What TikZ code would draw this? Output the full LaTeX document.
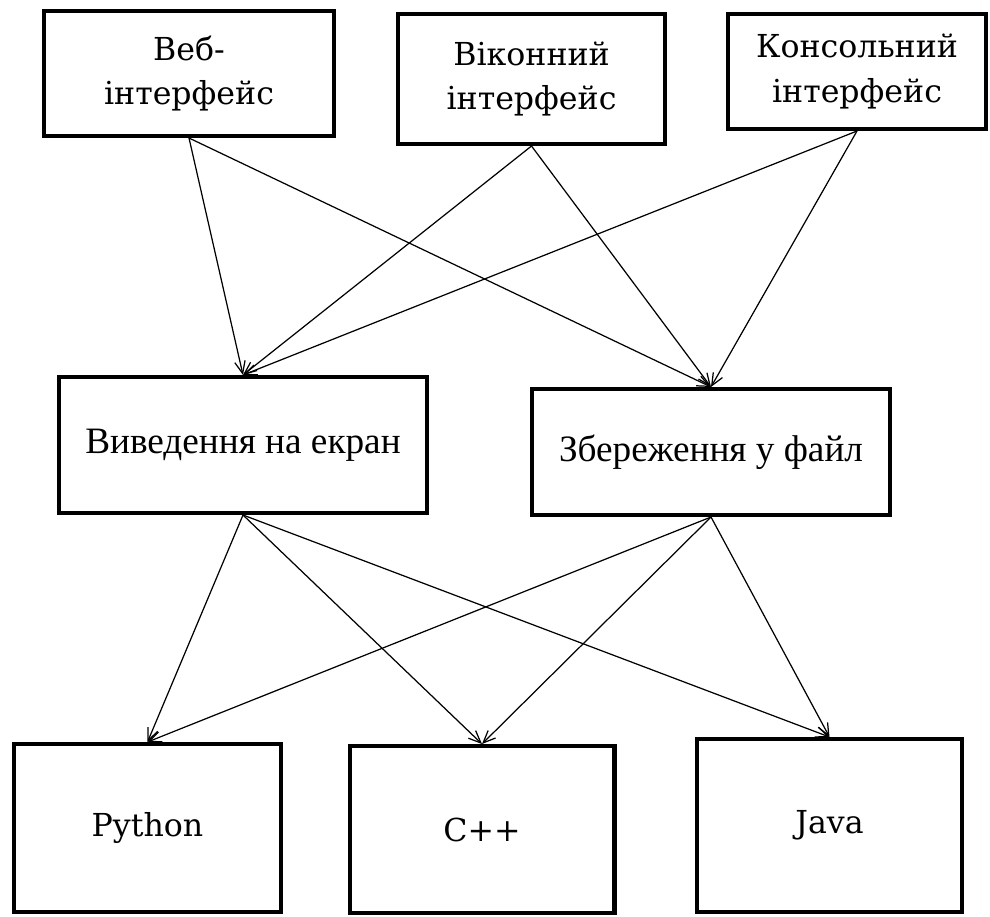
\documentclass[tikz,border=0pt]{standalone}
\usepackage{fontspec}
\setmainfont{Liberation Serif}
\newfontfamily\slabfont{DejaVu Serif}
\usetikzlibrary{arrows.meta}
\begin{document}
\begin{tikzpicture}[x=0.02cm,y=-0.02cm,
  box/.style={draw,line width=2.3pt,align=center,inner sep=0pt},
  toptext/.style={font=\slabfont\fontsize{18}{25.5}\selectfont},
  midtext/.style={font=\fontsize{21.2}{25}\selectfont},
  langtext/.style={font=\slabfont\fontsize{18}{22}\selectfont},
  arr/.style={-{Straight Barb[length=7pt,width=6pt]},line width=0.7pt}]
\useasboundingbox (0,0) rectangle (990,916);
% interfaces
\node[box,toptext,minimum width=5.8cm,minimum height=2.5cm] (web) at (189,73.5) {Веб-\\інтерфейс};
\node[box,toptext,minimum width=5.35cm,minimum height=2.6cm] (win) at (531.5,79) {Віконний\\інтерфейс};
\node[box,toptext,minimum width=5.15cm,minimum height=2.3cm] (cons) at (857,71.5) {Консольний\\інтерфейс};
% output
\node[box,midtext,minimum width=7.35cm,minimum height=2.72cm] (screen) at (243,445) {Виведення на екран};
\node[box,midtext,minimum width=7.15cm,minimum height=2.52cm] (file) at (711,452) {Збереження у файл};
% languages
\node[box,langtext,minimum width=5.35cm,minimum height=3.36cm] (py) at (147.5,828) {Python};
\node[box,langtext,minimum width=5.3cm,minimum height=3.34cm] (cpp) at (482,829.5) {C++};
\node[box,langtext,minimum width=5.3cm,minimum height=3.46cm] (java) at (829.5,825.5) {Java};
\foreach \a in {web,win,cons}
  \foreach \b in {screen,file}
    \draw[arr] (\a.south) -- (\b.north);
\foreach \a in {screen,file}
  \foreach \b in {py,cpp,java}
    \draw[arr] (\a.south) -- (\b.north);
\end{tikzpicture}
\end{document}
